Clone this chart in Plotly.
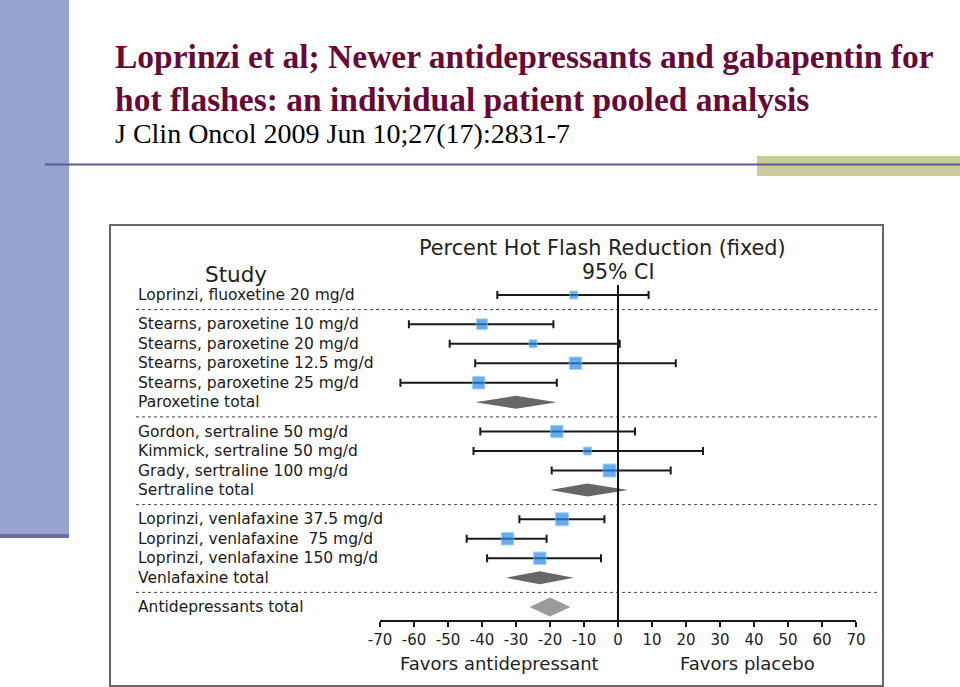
import plotly.graph_objects as go

# ---------------- data ----------------
group_studies = [
    ["Loprinzi, fluoxetine 20 mg/d"],
    ["Stearns, paroxetine 10 mg/d", "Stearns, paroxetine 20 mg/d",
     "Stearns, paroxetine 12.5 mg/d", "Stearns, paroxetine 25 mg/d"],
    ["Gordon, sertraline 50 mg/d", "Kimmick, sertraline 50 mg/d",
     "Grady, sertraline 100 mg/d"],
    ["Loprinzi, venlafaxine 37.5 mg/d", "Loprinzi, venlafaxine  75 mg/d",
     "Loprinzi, venlafaxine 150 mg/d"],
    [],
]
group_totals = [None, "Paroxetine total", "Sertraline total", "Venlafaxine total",
                "Antidepressants total"]

study_est = [-13, -40, -25, -12.5, -41, -18, -9, -2.5, -16.5, -32.5, -23]
study_lo = [-35.5, -61.5, -49.5, -42, -64, -40.5, -42.5, -19.5, -29, -44.5, -38.5]
study_hi = [9, -19, 0.5, 17, -18, 5, 25, 15.5, -4, -21, -5]
study_weight = [0.6, 0.85, 0.6, 1.0, 1.0, 1.0, 0.6, 1.05, 1.05, 1.0, 1.0]

total_est = [-30, -9, -23, -20]
total_lo = [-42, -20, -33, -26]
total_hi = [-18, 3, -13, -14]

tick_vals = [-70, -60, -50, -40, -30, -20, -10, 0, 10, 20, 30, 40, 50, 60, 70]

# ---------------- layout helpers ----------------
W, H = 960, 687
ROW_PX = 19.5
FIRST_ROW_PX = 295
AXIS_PX = 621


def py(px):
    return 1 - px / H


def px_to_unit(px):
    return (px - FIRST_ROW_PX) / ROW_PX


# compute row positions from group structure
study_pos, total_pos, sep_pos = [], [], []
study_names, total_names = [], []
pos = 0.0
for gi, (studies, tot) in enumerate(zip(group_studies, group_totals)):
    for s in studies:
        study_pos.append(pos)
        study_names.append(s)
        pos += 1
    if tot is not None:
        total_pos.append(pos)
        total_names.append(tot)
        pos += 1
    if gi < len(group_studies) - 1:
        sep_pos.append(pos - 0.25)
        pos += 0.5

fig = go.Figure()

# diamonds for totals
for i, (e, lo, hi, yv) in enumerate(zip(total_est, total_lo, total_hi, total_pos)):
    last = i == len(total_est) - 1
    h = 0.49 if last else 0.33
    fig.add_trace(go.Scatter(
        x=[lo, e, hi, e, lo], y=[yv, yv - h, yv, yv + h, yv],
        mode="lines", fill="toself",
        fillcolor="#9b9b9b" if last else "#676767",
        line=dict(width=0, color="#676767"), hoverinfo="skip", showlegend=False))

# study estimates with CI
sizes = [8 + 5 * (w - 0.6) / 0.45 for w in study_weight]
fig.add_trace(go.Scatter(
    x=study_est, y=study_pos, mode="markers",
    marker=dict(symbol="square", size=sizes, color="#2a88e6",
                line=dict(color="#7cc0f7", width=1)),
    error_x=dict(type="data", symmetric=False,
                 array=[h - e for h, e in zip(study_hi, study_est)],
                 arrayminus=[e - l for e, l in zip(study_est, study_lo)],
                 color="#1a1a1a", thickness=2, width=4),
    showlegend=False, hoverinfo="skip"))

shapes = []
# left decorative bar
shapes.append(dict(type="rect", xref="paper", yref="paper", x0=0, x1=69 / W,
                   y0=py(534), y1=1, fillcolor="#98a3cf", line=dict(width=0), layer="below"))
shapes.append(dict(type="rect", xref="paper", yref="paper", x0=0, x1=69 / W,
                   y0=py(538), y1=py(534), fillcolor="#6b6f9f", line=dict(width=0), layer="below"))
# olive accent + rule
shapes.append(dict(type="rect", xref="paper", yref="paper", x0=757 / W, x1=1,
                   y0=py(176), y1=py(156), fillcolor="#cdcb9b", line=dict(width=0), layer="below"))
shapes.append(dict(type="line", xref="paper", yref="paper", x0=45 / W, x1=1,
                   y0=py(164.5), y1=py(164.5), line=dict(color="#5a5f8f", width=2)))
# figure box
shapes.append(dict(type="rect", xref="paper", yref="paper", x0=110 / W, x1=883 / W,
                   y0=py(686), y1=py(225), line=dict(color="#666666", width=2)))
# dotted separators
for s in sep_pos:
    shapes.append(dict(type="line", xref="paper", yref="y", x0=136 / W, x1=878 / W,
                       y0=s, y1=s, line=dict(color="#444444", width=1, dash="dot")))
# zero line
shapes.append(dict(type="line", xref="x", yref="paper", x0=0, x1=0,
                   y0=py(AXIS_PX), y1=py(285), line=dict(color="#111111", width=2)))

annotations = []
title_font = "Liberation Serif"
annotations.append(dict(text="<b>Loprinzi et al; Newer antidepressants and gabapentin for</b>",
                        xref="paper", yref="paper", x=113 / W, y=py(57), xanchor="left",
                        yanchor="middle", showarrow=False,
                        font=dict(family=title_font, size=33.5, color="#660a38")))
annotations.append(dict(text="<b>hot flashes: an individual patient pooled analysis</b>",
                        xref="paper", yref="paper", x=113 / W, y=py(99), xanchor="left",
                        yanchor="middle", showarrow=False,
                        font=dict(family=title_font, size=33.5, color="#660a38")))
annotations.append(dict(text="J Clin Oncol 2009 Jun 10;27(17):2831-7",
                        xref="paper", yref="paper", x=113 / W, y=py(134), xanchor="left",
                        yanchor="middle", showarrow=False,
                        font=dict(family=title_font, size=28, color="#000000")))

sans = "DejaVu Sans"
annotations.append(dict(text="Percent Hot Flash Reduction (fixed)", xref="paper", yref="paper",
                        x=602 / W, y=py(248), xanchor="center", yanchor="middle", showarrow=False,
                        font=dict(family=sans, size=20.8, color="#222222")))
annotations.append(dict(text="95% CI", xref="x", yref="paper",
                        x=0, y=py(272), xanchor="center", yanchor="middle", showarrow=False,
                        font=dict(family=sans, size=20.5, color="#222222")))
annotations.append(dict(text="Study", xref="paper", yref="paper",
                        x=236 / W, y=py(274), xanchor="center", yanchor="middle", showarrow=False,
                        font=dict(family=sans, size=21.5, color="#222222")))

for name, yv in list(zip(study_names, study_pos)) + list(zip(total_names, total_pos)):
    annotations.append(dict(text=name, xref="paper", yref="y", x=136 / W, y=yv,
                            xanchor="left", yanchor="middle", showarrow=False,
                            font=dict(family=sans, size=15.5, color="#1a1a1a")))

annotations.append(dict(text="Favors antidepressant", xref="x", yref="paper", x=-35, y=py(663),
                        xanchor="center", yanchor="middle", showarrow=False,
                        font=dict(family=sans, size=18, color="#222222")))
annotations.append(dict(text="Favors placebo", xref="x", yref="paper", x=38, y=py(663),
                        xanchor="center", yanchor="middle", showarrow=False,
                        font=dict(family=sans, size=18, color="#222222")))

fig.update_layout(
    width=W, height=H,
    margin=dict(l=0, r=0, t=0, b=0, pad=0, autoexpand=False),
    paper_bgcolor="white", plot_bgcolor="white",
    shapes=shapes, annotations=annotations, showlegend=False,
    xaxis=dict(domain=[380 / W, 856 / W], range=[-70, 70], anchor="free",
               position=py(AXIS_PX), showgrid=False, zeroline=False, automargin=False,
               showline=True, linecolor="#1a1a1a", linewidth=2,
               ticks="outside", ticklen=5, tickwidth=1.5, tickcolor="#1a1a1a",
               tickvals=tick_vals, ticktext=[str(t) for t in tick_vals],
               tickfont=dict(family=sans, size=15, color="#222222")),
    yaxis=dict(domain=[0, 1], range=[px_to_unit(H), px_to_unit(0)], automargin=False,
               visible=False, showgrid=False, zeroline=False),
)

fig.write_html("out.html",
               post_script="document.body.style.margin='0px';"
                           "document.documentElement.style.overflow='hidden';")
